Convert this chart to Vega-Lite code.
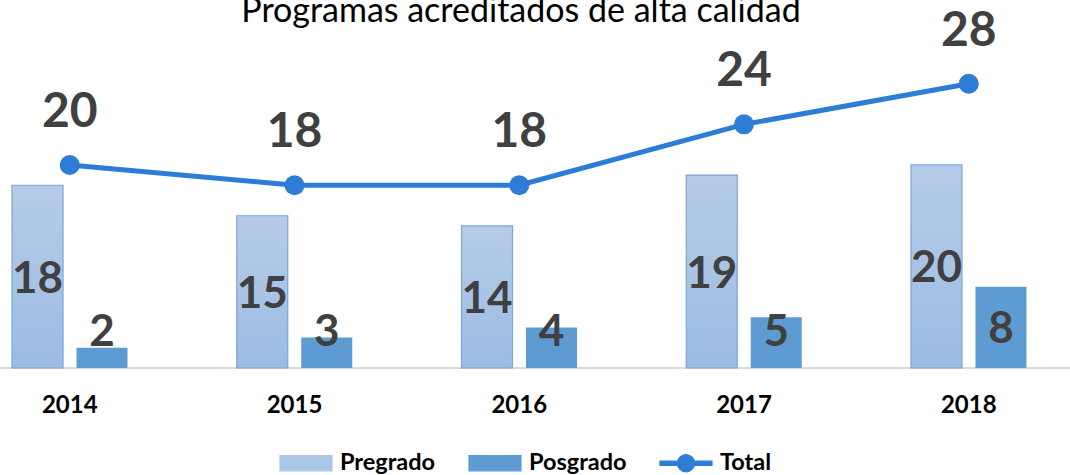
{
  "$schema": "https://vega.github.io/schema/vega-lite/v6.json",
  "width": 1070,
  "height": 308,
  "autosize": {"type": "none"},
  "padding": {"left": 0, "right": 0, "top": 60, "bottom": 107},
  "background": "white",
  "config": {"view": {"stroke": null}, "font": "Lato"},
  "title": {
    "text": "Programas acreditados de alta calidad",
    "font": "Lato",
    "fontSize": 34,
    "fontWeight": "normal",
    "color": "#000000",
    "anchor": "middle",
    "frame": "group",
    "offset": 0,
    "dx": -14,
    "dy": 21
  },
  "data": {
    "values": [
      {"year": "2014", "serie": "Pregrado", "value": 18},
      {"year": "2014", "serie": "Posgrado", "value": 2},
      {"year": "2014", "serie": "Total", "value": 20},
      {"year": "2015", "serie": "Pregrado", "value": 15},
      {"year": "2015", "serie": "Posgrado", "value": 3},
      {"year": "2015", "serie": "Total", "value": 18},
      {"year": "2016", "serie": "Pregrado", "value": 14},
      {"year": "2016", "serie": "Posgrado", "value": 4},
      {"year": "2016", "serie": "Total", "value": 18},
      {"year": "2017", "serie": "Pregrado", "value": 19},
      {"year": "2017", "serie": "Posgrado", "value": 5},
      {"year": "2017", "serie": "Total", "value": 24},
      {"year": "2018", "serie": "Pregrado", "value": 20},
      {"year": "2018", "serie": "Posgrado", "value": 8},
      {"year": "2018", "serie": "Total", "value": 28}
    ]
  },
  "encoding": {
    "x": {
      "field": "year",
      "type": "nominal",
      "scale": {"range": [-42.6, 1081.1], "paddingInner": 0, "paddingOuter": 0},
      "axis": {
        "title": null,
        "domain": false,
        "ticks": false,
        "tickSize": 0,
        "labelAngle": 0,
        "labelFont": "Lato",
        "labelFontWeight": "bold",
        "labelFontSize": 24,
        "labelColor": "#000000",
        "labelPadding": 25
      }
    }
  },
  "layer": [
    {
      "mark": {"type": "rule", "color": "#d9d9d9", "strokeWidth": 1.5},
      "encoding": {"x": null, "y": {"datum": 0, "type": "quantitative", "scale": {"domain": [0, 30.34], "nice": false}, "axis": null}}
    },
    {
      "transform": [{"filter": "datum.serie === 'Pregrado'"}],
      "mark": {
        "type": "bar",
        "color": {"gradient": "linear", "x1": 0, "y1": 0, "x2": 0, "y2": 1, "stops": [{"offset": 0, "color": "#b5cce9"}, {"offset": 1, "color": "#9bbce3"}]},
        "stroke": "#7ba6d8",
        "strokeWidth": 1.2
      },
      "encoding": {
        "xOffset": {"field": "serie", "type": "nominal", "scale": {"domain": ["Pregrado", "Posgrado"], "paddingInner": 0.209, "paddingOuter": 0.847}},
        "y": {"field": "value", "type": "quantitative", "scale": {"domain": [0, 30.34], "nice": false}, "axis": null}
      }
    },
    {
      "transform": [{"filter": "datum.serie === 'Posgrado'"}],
      "mark": {"type": "bar"},
      "encoding": {
        "xOffset": {"field": "serie", "type": "nominal", "scale": {"domain": ["Pregrado", "Posgrado"], "paddingInner": 0.209, "paddingOuter": 0.847}},
        "y": {"field": "value", "type": "quantitative", "scale": {"domain": [0, 30.34], "nice": false}, "axis": null},
        "color": {
          "field": "serie",
          "type": "nominal",
          "scale": {"domain": ["Pregrado", "Posgrado", "Total"], "range": ["#a9c6e7", "#5e9bd2", "#2d7cd6"]},
          "legend": {
            "orient": "none",
            "legendX": 279,
            "legendY": 376,
            "direction": "horizontal",
            "title": null,
            "labelFont": "Lato",
            "labelFontWeight": "bold",
            "labelFontSize": 23.5,
            "labelColor": "#000000",
            "labelOffset": 7,
            "columnPadding": 30,
            "symbolSize": 2704,
            "encode": {
              "symbols": {
                "update": {
                  "shape": {"signal": "datum.value === 'Total' ? 'M-1,-0.08H1V0.08H-1Z M-0.33,0A0.33,0.33 0 1,1 0.33,0A0.33,0.33 0 1,1 -0.33,0Z' : 'M-1,-0.29H1V0.29H-1Z'"},
                  "fill": {"signal": "datum.value === 'Pregrado' ? {gradient: 'linear', x1: 0, y1: 0, x2: 0, y2: 1, stops: [{offset: 0, color: '#b5cce9'}, {offset: 1, color: '#9bbce3'}]} : (datum.value === 'Posgrado' ? '#5e9bd2' : '#2d7cd6')"},
                  "stroke": {"signal": "datum.value === 'Pregrado' ? '#7ba6d8' : 'transparent'"},
                  "strokeWidth": {"value": 1.2},
                  "opacity": {"value": 1},
                  "fillOpacity": {"value": 1}
                }
              }
            }
          }
        }
      }
    },
    {
      "transform": [{"filter": "datum.serie === 'Total'"}],
      "mark": {"type": "line", "strokeWidth": 5, "point": {"filled": true, "size": 400, "opacity": 1}},
      "encoding": {
        "y": {"field": "value", "type": "quantitative", "scale": {"domain": [0, 30.34], "nice": false}, "axis": null},
        "color": {"field": "serie", "type": "nominal"}
      }
    },
    {
      "transform": [{"filter": "datum.serie === 'Total'"}],
      "mark": {"type": "text", "font": "Lato", "fontSize": 48, "fontWeight": "bold", "color": "#404040", "baseline": "middle", "dy": -52},
      "encoding": {
        "y": {"field": "value", "type": "quantitative", "scale": {"domain": [0, 30.34], "nice": false}, "axis": null},
        "text": {"field": "value", "type": "quantitative"}
      }
    },
    {
      "transform": [
        {"filter": "datum.serie !== 'Total'"},
        {"calculate": "datum.serie === 'Pregrado' ? datum.value / 2 : max(datum.value / 2, 3.7)", "as": "labpos"}
      ],
      "mark": {"type": "text", "font": "Lato", "fontSize": 44, "fontWeight": "bold", "color": "#404040", "baseline": "middle", "dy": 3},
      "encoding": {
        "xOffset": {"field": "serie", "type": "nominal", "scale": {"domain": ["Pregrado", "Posgrado"], "paddingInner": 0.209, "paddingOuter": 0.847}},
        "y": {"field": "labpos", "type": "quantitative", "scale": {"domain": [0, 30.34], "nice": false}, "axis": null},
        "text": {"field": "value", "type": "quantitative"}
      }
    }
  ]
}
